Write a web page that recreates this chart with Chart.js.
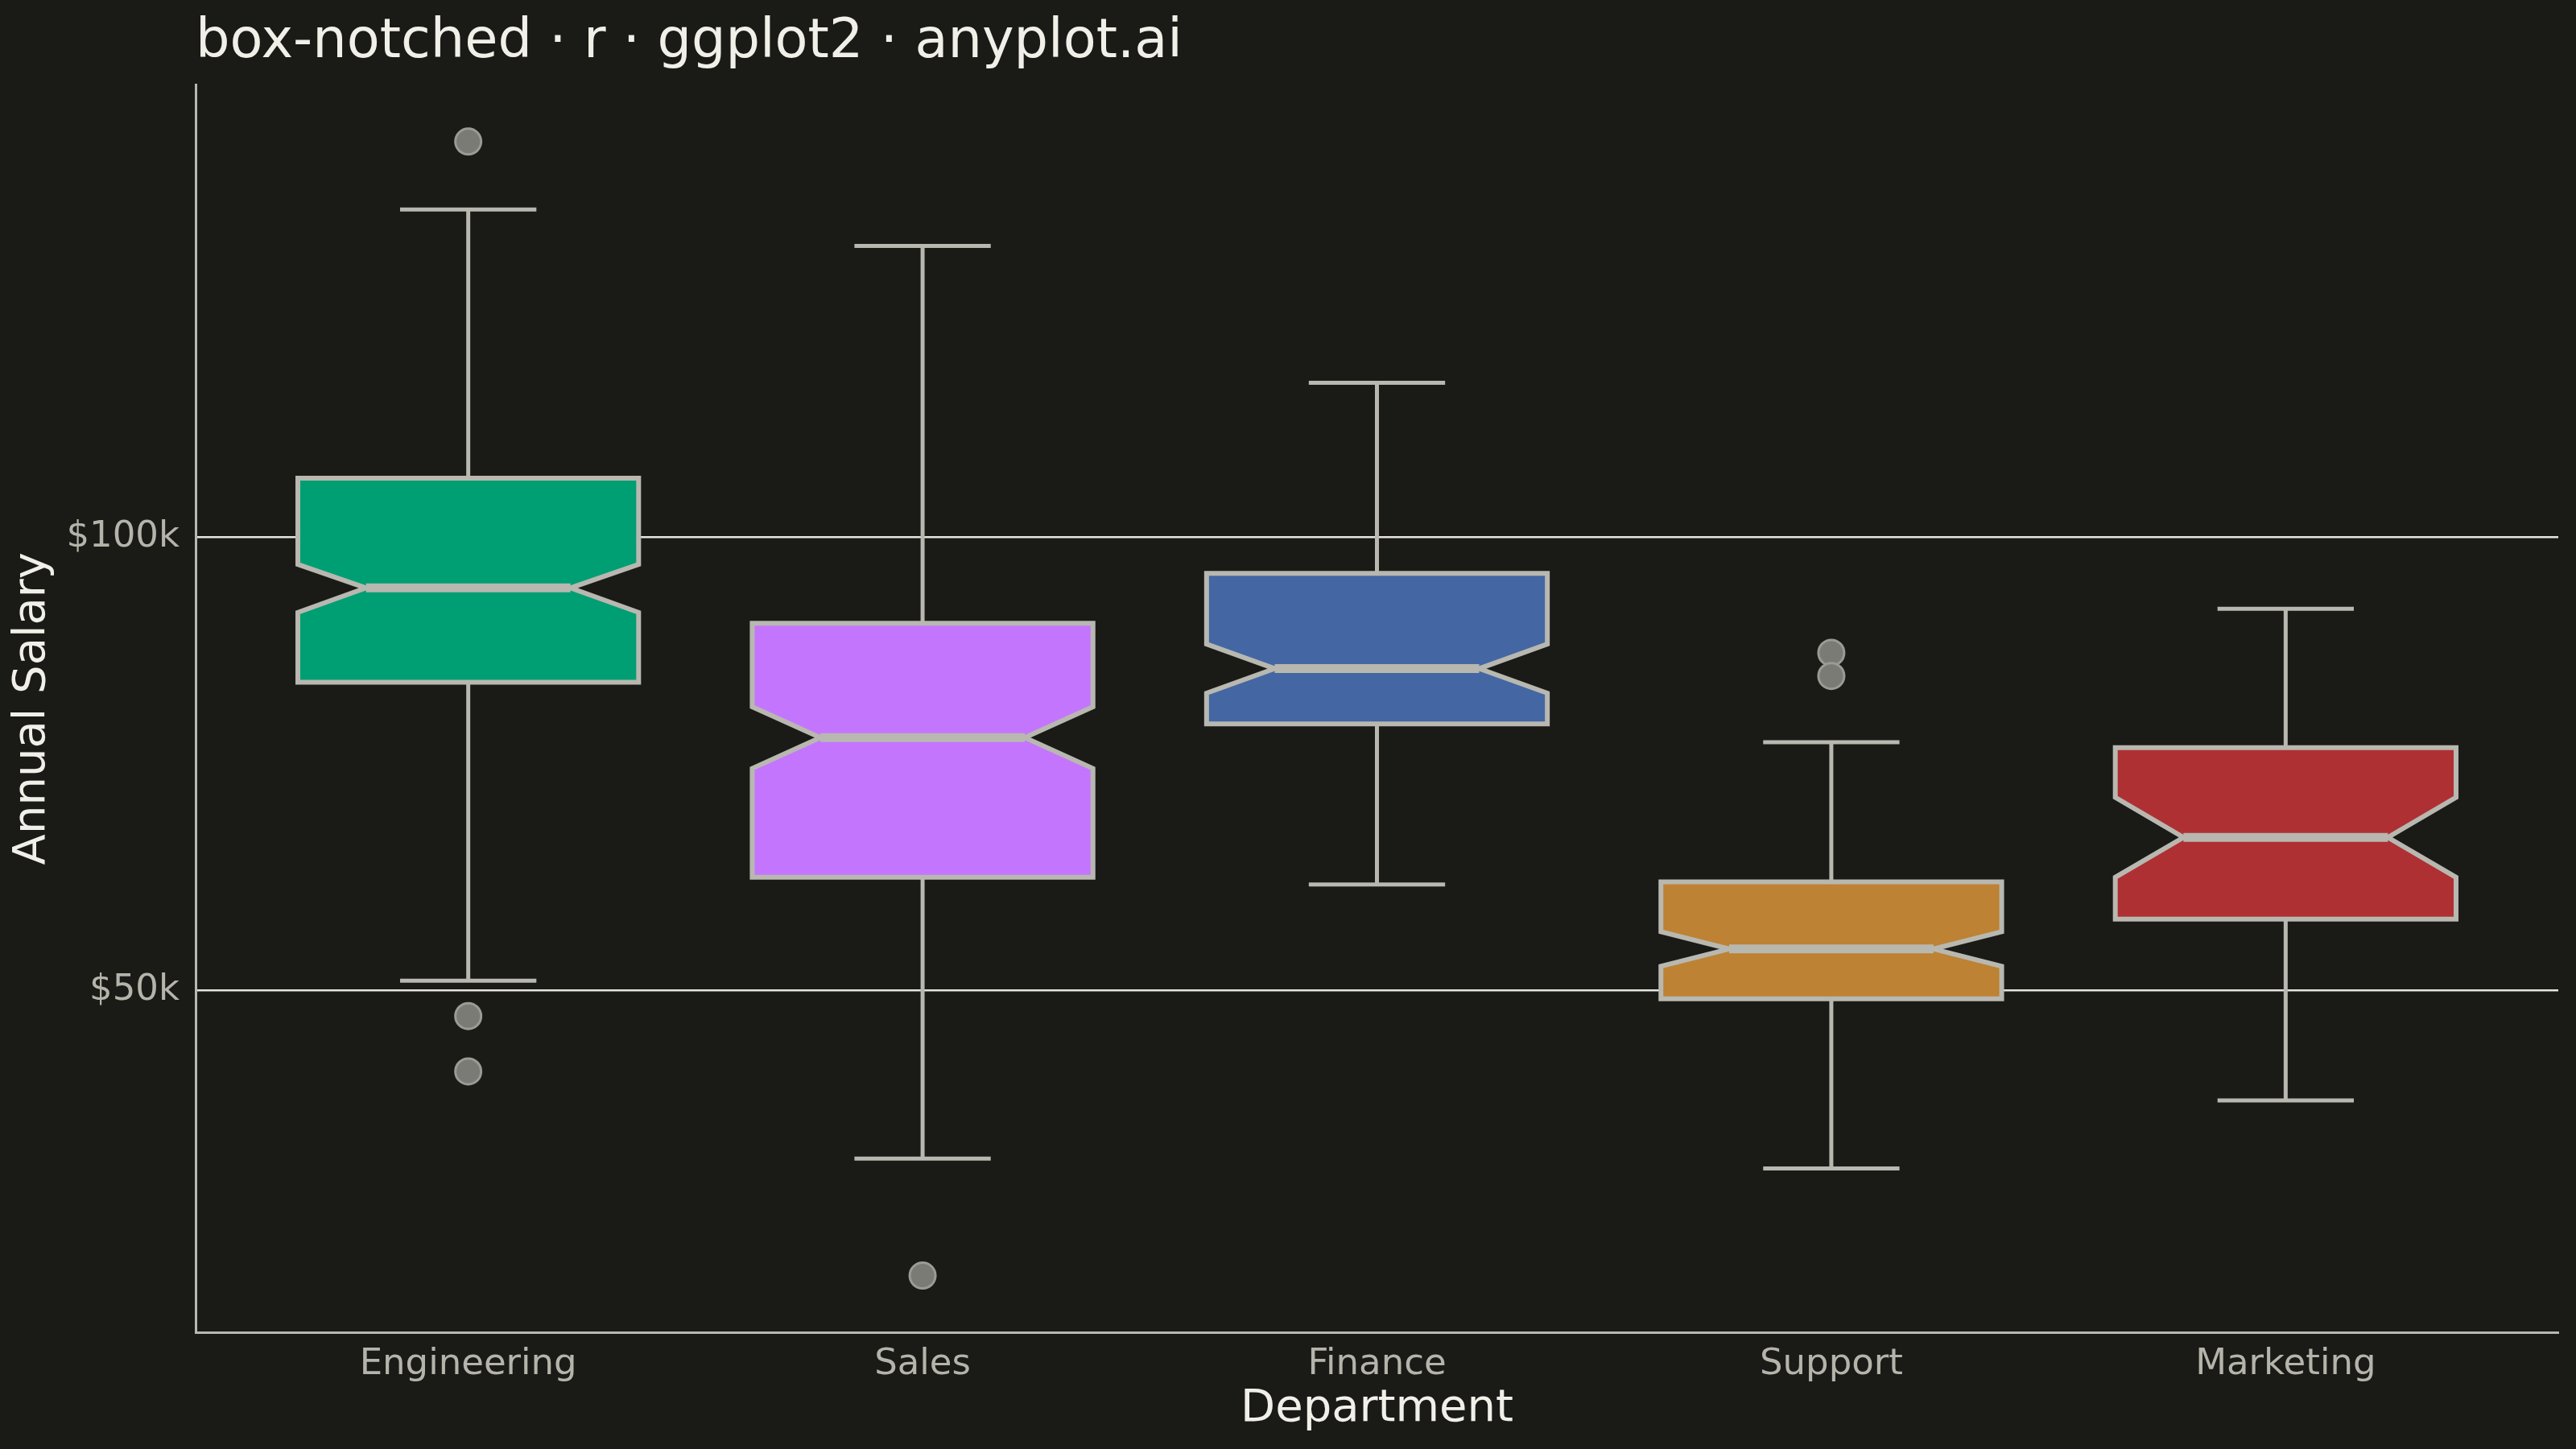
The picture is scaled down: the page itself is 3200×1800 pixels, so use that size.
<!DOCTYPE html>
<html>
<head>
<meta charset="utf-8">
<script src="https://cdn.jsdelivr.net/npm/chart.js@4"></script>
<style>
  html, body { margin: 0; padding: 0; background: #1A1A17; }
  #wrap { width: 3200px; height: 1800px; }
</style>
</head>
<body>
<div id="wrap"><canvas id="c" width="3200" height="1800"></canvas></div>
<script>
// ---- Data (annual salary, $k) ----
const categories   = ["Engineering", "Sales", "Finance", "Support", "Marketing"];
const whiskerLow   = [51.1, 31.5, 61.7, 30.4, 37.9];
const q1           = [84.0, 62.5, 79.4, 49.1, 57.9];
const notchLow     = [91.7, 74.5, 82.8, 52.7, 62.5];
const median       = [94.4, 77.9, 85.5, 54.6, 66.9];
const notchHigh    = [97.0, 81.3, 88.2, 56.5, 71.3];
const q3           = [106.5, 90.5, 96.0, 62.0, 76.8];
const whiskerHigh  = [136.1, 132.1, 117.0, 77.4, 92.1];
const outlierCat   = [0, 0, 0, 1, 3, 3];
const outlierValue = [143.6, 47.2, 41.1, 18.6, 87.25, 84.7];
const yTicks       = [50, 100];
const fillColors   = ["#009E73", "#C475FD", "#4467A3", "#BD8233", "#AE3033"];

const outlierPoints = outlierCat.map((c, i) => ({ x: c, y: outlierValue[i] }));

const boxPlugin = {
  id: 'notchedBoxes',
  beforeDatasetsDraw(chart) {
    const ctx = chart.ctx;
    const xs = chart.scales.x, ys = chart.scales.y;
    const boxHalf = 0.375, notchFrac = 0.6, capHalf = 0.15;
    ctx.save();
    ctx.lineJoin = 'miter';
    ctx.lineCap = 'butt';
    categories.forEach((cat, i) => {
      const cx = xs.getPixelForValue(i);
      const hw = xs.getPixelForValue(i + boxHalf) - cx;
      const nw = hw * notchFrac;
      const cw = xs.getPixelForValue(i + capHalf) - cx;
      const y = v => ys.getPixelForValue(v);
      ctx.strokeStyle = '#B8B8B0';
      // whiskers
      ctx.lineWidth = 5;
      ctx.beginPath();
      ctx.moveTo(cx, y(q3[i])); ctx.lineTo(cx, y(whiskerHigh[i]));
      ctx.moveTo(cx, y(q1[i])); ctx.lineTo(cx, y(whiskerLow[i]));
      ctx.moveTo(cx - cw, y(whiskerHigh[i])); ctx.lineTo(cx + cw, y(whiskerHigh[i]));
      ctx.moveTo(cx - cw, y(whiskerLow[i])); ctx.lineTo(cx + cw, y(whiskerLow[i]));
      ctx.stroke();
      // notched box
      ctx.beginPath();
      ctx.moveTo(cx - hw, y(q3[i]));
      ctx.lineTo(cx - hw, y(notchHigh[i]));
      ctx.lineTo(cx - nw, y(median[i]));
      ctx.lineTo(cx - hw, y(notchLow[i]));
      ctx.lineTo(cx - hw, y(q1[i]));
      ctx.lineTo(cx + hw, y(q1[i]));
      ctx.lineTo(cx + hw, y(notchLow[i]));
      ctx.lineTo(cx + nw, y(median[i]));
      ctx.lineTo(cx + hw, y(notchHigh[i]));
      ctx.lineTo(cx + hw, y(q3[i]));
      ctx.closePath();
      ctx.fillStyle = fillColors[i];
      ctx.fill();
      ctx.lineWidth = 6;
      ctx.stroke();
      // median
      ctx.lineWidth = 11;
      ctx.beginPath();
      ctx.moveTo(cx - nw, y(median[i]));
      ctx.lineTo(cx + nw, y(median[i]));
      ctx.stroke();
    });
    ctx.restore();
  }
};

const bgPlugin = {
  id: 'bg',
  beforeDraw(chart) {
    const ctx = chart.ctx;
    ctx.save();
    ctx.fillStyle = '#1A1A17';
    ctx.fillRect(0, 0, chart.width, chart.height);
    ctx.restore();
  }
};

new Chart(document.getElementById('c'), {
  type: 'scatter',
  data: {
    datasets: [{
      label: 'Outliers',
      data: outlierPoints,
      pointRadius: 16,
      pointHoverRadius: 16,
      backgroundColor: '#7B7B76',
      borderColor: '#9B9B95',
      borderWidth: 3
    }]
  },
  options: {
    responsive: false,
    animation: false,
    devicePixelRatio: 1,
    layout: { padding: { left: 0, right: 22, top: 0, bottom: 0 } },
    plugins: {
      legend: { display: false },
      tooltip: { enabled: false },
      title: {
        display: true,
        text: 'box-notched · r · ggplot2 · anyplot.ai',
        align: 'start',
        fullSize: false,
        color: '#F0EFE8',
        font: { family: 'DejaVu Sans', size: 67, weight: 'normal', lineHeight: 1.2 },
        padding: { top: 13, bottom: 12 }
      }
    },
    scales: {
      x: {
        type: 'linear',
        min: -0.6,
        max: 4.6,
        afterBuildTicks: s => { s.ticks = categories.map((c, i) => ({ value: i })); },
        afterFit: s => { s.height = 145; },
        ticks: {
          callback: v => categories[v],
          color: '#B4B4AA',
          font: { family: 'DejaVu Sans', size: 45 },
          padding: 13,
          maxRotation: 0,
          autoSkip: false
        },
        grid: { display: false, drawTicks: false },
        border: { display: true, color: '#B8B8B0', width: 3 },
        title: {
          display: true,
          text: 'Department',
          color: '#F0EFE8',
          font: { family: 'DejaVu Sans', size: 56, lineHeight: 1.2 },
          padding: { top: 0, bottom: 16 }
        }
      },
      y: {
        type: 'linear',
        min: 12.35,
        max: 149.85,
        afterBuildTicks: s => { s.ticks = yTicks.map(v => ({ value: v })); },
        afterFit: s => { s.width = 243; },
        ticks: {
          callback: v => '$' + v + 'k',
          color: '#B4B4AA',
          font: { family: 'DejaVu Sans', size: 45 },
          padding: 20
        },
        grid: { display: true, color: '#E6E5DE', lineWidth: 2.5, drawTicks: false },
        border: { display: true, color: '#B8B8B0', width: 3 },
        title: {
          display: true,
          text: 'Annual Salary',
          color: '#F0EFE8',
          font: { family: 'DejaVu Sans', size: 56, lineHeight: 1.2 },
          padding: { top: 7, bottom: 0 }
        }
      }
    }
  },
  plugins: [bgPlugin, boxPlugin]
});
</script>
</body>
</html>
